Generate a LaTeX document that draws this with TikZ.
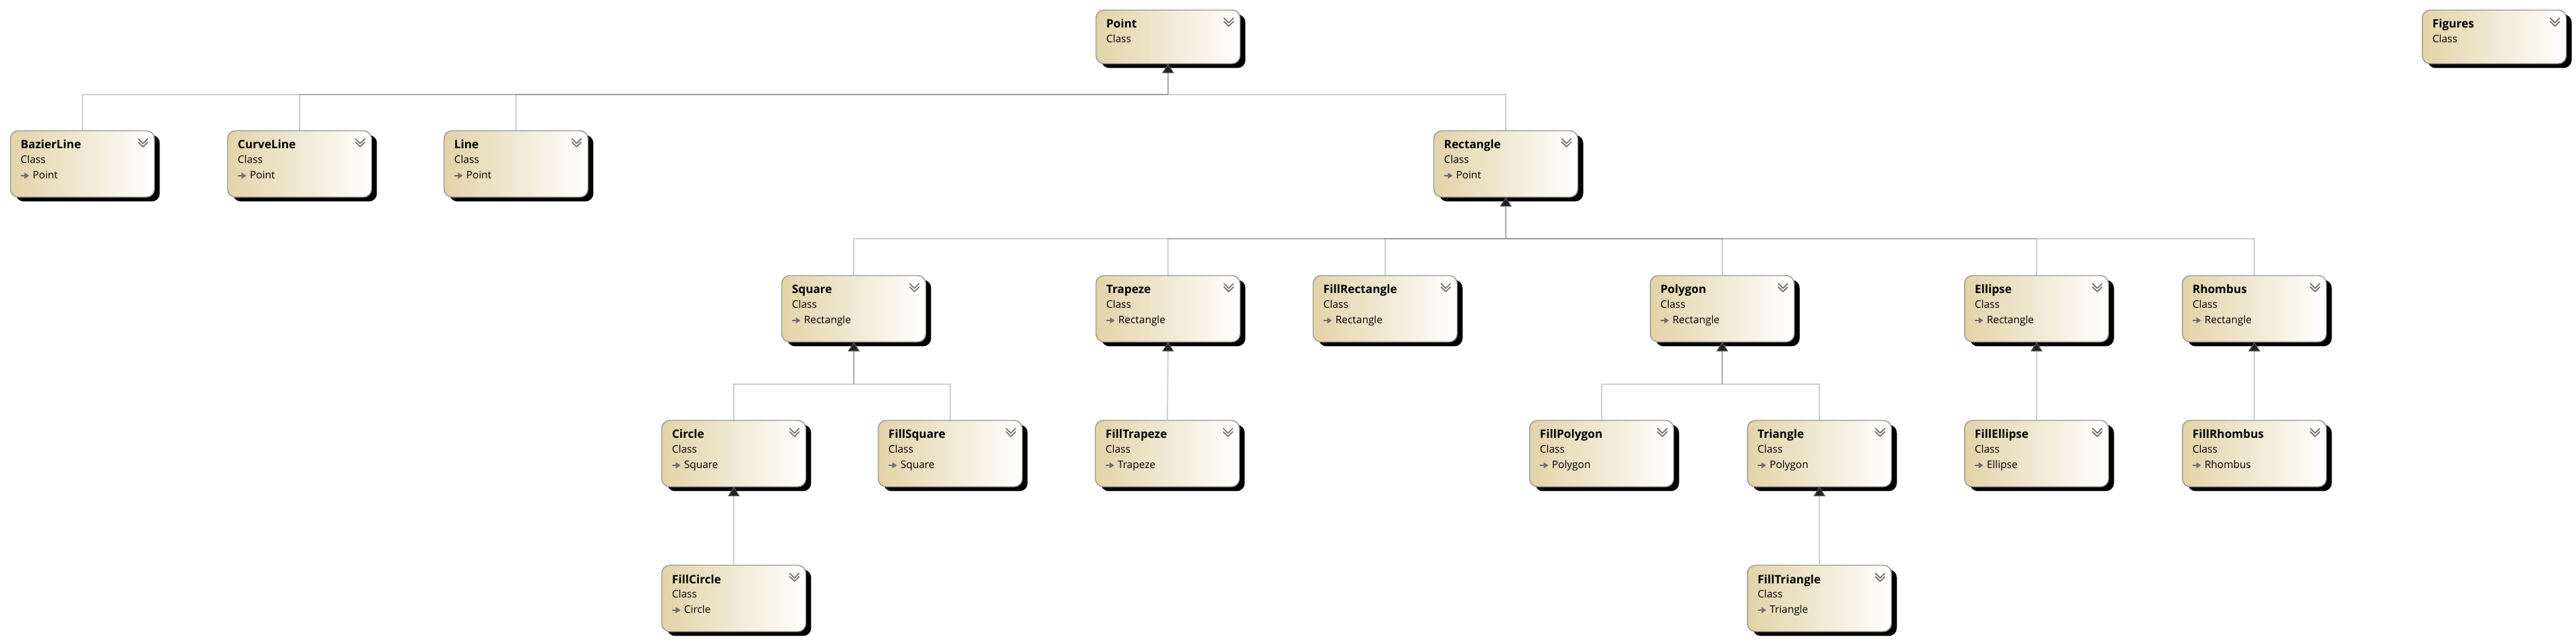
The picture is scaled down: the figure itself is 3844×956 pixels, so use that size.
\documentclass[tikz,border=0pt]{standalone}
\usepackage{fontspec}
\setmainfont{Open Sans}
\usetikzlibrary{arrows.meta,shadows}

\definecolor{classtan}{RGB}{226,211,168}
\definecolor{boxborder}{RGB}{150,150,150}
\definecolor{linkgray}{RGB}{120,120,120}
\definecolor{stemgray}{RGB}{168,168,168}
\definecolor{directgray}{RGB}{207,207,207}
\definecolor{tipfill}{RGB}{35,35,35}
\definecolor{tipedge}{RGB}{90,90,90}
\definecolor{icongray}{RGB}{110,110,110}

\tikzset{
  classbox/.style={draw=boxborder, line width=0.8pt, rounded corners=0.24cm,
    left color=classtan, right color=white, minimum width=4.3cm,
    minimum height=1.98cm, inner sep=0pt, outer sep=0pt, anchor=north,
    drop shadow={shadow xshift=0.16cm, shadow yshift=-0.13cm, fill=black, opacity=1}},
  smallbox/.style={classbox, minimum height=1.6cm},
  cname/.style={anchor=base west, inner sep=0pt, font=\fontsize{9.8}{12}\selectfont\bfseries},
  ckind/.style={anchor=base west, inner sep=0pt, font=\fontsize{8.8}{11}\selectfont},
  chev/.style={draw=icongray, line width=1pt, line cap=round, line join=round},
  inhicon/.style={draw=icongray, line width=1.1pt, -{Triangle[width=5pt,length=4pt]}},
  link/.style={draw=linkgray, draw opacity=0.36, line width=1.1pt},
  stem/.style={draw=stemgray, line width=1.1pt,
    -{Triangle[width=10pt,length=8pt,fill=tipfill,color=tipedge,line width=0.6pt]}},
  direct/.style={stem, draw=directgray}
}

\begin{document}
\begin{tikzpicture}[x=0.02cm, y=-0.02cm]
\useasboundingbox (0,0) rectangle (3844,956);

% Classi senza base (due righe)
\foreach \n/\x in {Point/1743, Figures/3722} {
  \node[smallbox] (\n) at (\x,15) {};
  \node[cname] (\n-name) at ([xshift=0.3cm,yshift=-0.54cm]\n.north west) {\n};
  \node[ckind] (\n-kind) at ([xshift=0.3cm,yshift=-0.98cm]\n.north west) {Class};
  \draw[chev] ([xshift=-0.48cm,yshift=-0.24cm]\n.north east) -- ([xshift=-0.34cm,yshift=-0.38cm]\n.north east) -- ([xshift=-0.2cm,yshift=-0.24cm]\n.north east);
  \draw[chev] ([xshift=-0.48cm,yshift=-0.34cm]\n.north east) -- ([xshift=-0.34cm,yshift=-0.48cm]\n.north east) -- ([xshift=-0.2cm,yshift=-0.34cm]\n.north east);
}

% Classi derivate: nome/x/y/base
\foreach \n/\x/\y/\p in {BazierLine/123/195/Point, CurveLine/447/195/Point,
                         Line/770/195/Point, Rectangle/2247/195/Point,
                         Square/1274/411/Rectangle, Trapeze/1743/411/Rectangle,
                         FillRectangle/2067/411/Rectangle, Polygon/2570/411/Rectangle,
                         Ellipse/3039/411/Rectangle, Rhombus/3364/411/Rectangle,
                         Circle/1095/627/Square, FillSquare/1418/627/Square,
                         FillTrapeze/1742/627/Trapeze, FillPolygon/2390/627/Polygon,
                         Triangle/2715/627/Polygon, FillEllipse/3039/627/Ellipse,
                         FillRhombus/3364/627/Rhombus,
                         FillCircle/1095/843/Circle, FillTriangle/2715/843/Triangle} {
  \node[classbox] (\n) at (\x,\y) {};
  \node[cname] (\n-name) at ([xshift=0.3cm,yshift=-0.54cm]\n.north west) {\n};
  \node[ckind] (\n-kind) at ([xshift=0.3cm,yshift=-0.98cm]\n.north west) {Class};
  \node[ckind] (\n-base) at ([xshift=0.66cm,yshift=-1.44cm]\n.north west) {\p};
  \draw[inhicon] ([xshift=0.3cm,yshift=-1.34cm]\n.north west) -- ([xshift=0.56cm,yshift=-1.34cm]\n.north west);
  \draw[chev] ([xshift=-0.48cm,yshift=-0.24cm]\n.north east) -- ([xshift=-0.34cm,yshift=-0.38cm]\n.north east) -- ([xshift=-0.2cm,yshift=-0.24cm]\n.north east);
  \draw[chev] ([xshift=-0.48cm,yshift=-0.34cm]\n.north east) -- ([xshift=-0.34cm,yshift=-0.48cm]\n.north east) -- ([xshift=-0.2cm,yshift=-0.34cm]\n.north east);
}

% Punti di raccordo delle barre
\coordinate (Point-bar) at (Point.south |- 0,141);
\coordinate (Rectangle-bar) at (Rectangle.south |- 0,356);
\coordinate (Square-bar) at (Square.south |- 0,573);
\coordinate (Polygon-bar) at (Polygon.south |- 0,573);

% Collegamenti verso le barre
\foreach \c/\p in {BazierLine/Point, CurveLine/Point, Line/Point, Rectangle/Point,
                   Square/Rectangle, Trapeze/Rectangle, FillRectangle/Rectangle,
                   Polygon/Rectangle, Ellipse/Rectangle, Rhombus/Rectangle,
                   Circle/Square, FillSquare/Square,
                   FillPolygon/Polygon, Triangle/Polygon} {
  \draw[link] (\c.north) |- (\p-bar);
}
\foreach \p in {Point, Rectangle, Square, Polygon} {
  \draw[stem] (\p-bar) -- (\p.south);
}

% Collegamenti diretti
\foreach \c/\p in {FillTrapeze/Trapeze, FillEllipse/Ellipse, FillRhombus/Rhombus,
                   FillCircle/Circle, FillTriangle/Triangle} {
  \draw[direct] (\c.north) -- (\p.south);
}

\end{tikzpicture}
\end{document}
